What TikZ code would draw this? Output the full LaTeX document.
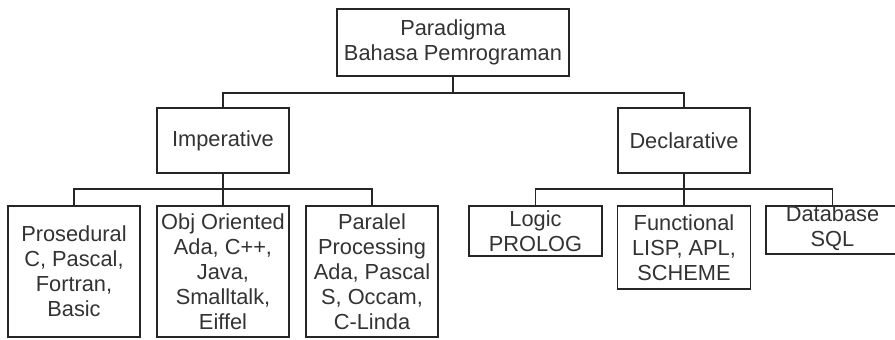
\documentclass[tikz,border=0pt]{standalone}
\usepackage{fontspec}
\setmainfont{Liberation Sans}
\begin{document}
\begin{tikzpicture}[
    box/.style={draw=black!85, line width=1pt, inner sep=0, align=center,
      text=black!80, font=\fontsize{12.4}{14.2}\selectfont},
    link/.style={draw=black!85, line width=1pt}]
      \fill[white] (0,0) rectangle (17.9,-6.78);
      \clip (0,0) rectangle (17.9,-6.78);
      \node[box, minimum width=4.64cm, minimum height=1.34cm] (top) at (9.06,-0.85) {Paradigma\\Bahasa Pemrograman};
      \node[box, minimum width=2.64cm, minimum height=1.30cm] (imp) at (4.46,-2.81) {Imperative};
      \node[box, minimum width=2.64cm, minimum height=1.30cm] (dec) at (13.68,-2.81) {Declarative};
      \node[box, minimum width=2.64cm, minimum height=2.62cm] (pro) at (1.48,-5.43) {Prosedural\\C, Pascal,\\Fortran,\\Basic};
      \node[box, minimum width=2.64cm, minimum height=2.62cm] (obj) at (4.46,-5.43) {Obj Oriented\\Ada, C++,\\Java,\\Smalltalk,\\Eiffel};
      \node[box, minimum width=2.64cm, minimum height=2.62cm] (par) at (7.44,-5.43) {Paralel\\Processing\\Ada, Pascal\\S, Occam,\\C-Linda};
      \node[box, minimum width=2.66cm, minimum height=1.00cm] (log) at (10.71,-4.62) {Logic\\PROLOG};
      \node[box, minimum width=2.66cm, minimum height=1.66cm] (fun) at (13.68,-4.95) {Functional\\LISP, APL,\\SCHEME};
      % database box runs past the right edge
      \node[box, minimum width=3.0cm, minimum height=0.96cm] (datbox) at (16.82,-4.60) {};
      \node[box, draw=none] (dat) at (16.65,-4.56) {Database\\SQL};
      \coordinate (bus) at (9.06,-1.86);
      \coordinate (impbus) at (4.46,-3.78);
      \coordinate (decbus) at (13.68,-3.78);
      \draw[link] (top.south) -- (bus);
      \draw[link] (imp.north) |- (bus) -| (dec.north);
      \draw[link] (imp.south) -- (obj.north);
      \draw[link] (pro.north) |- (impbus) -| (par.north);
      \draw[link] (dec.south) -- (fun.north);
      \draw[link] (log.north) |- (decbus) -| (datbox.north -| dat.center);
    \end{tikzpicture}
\end{document}
